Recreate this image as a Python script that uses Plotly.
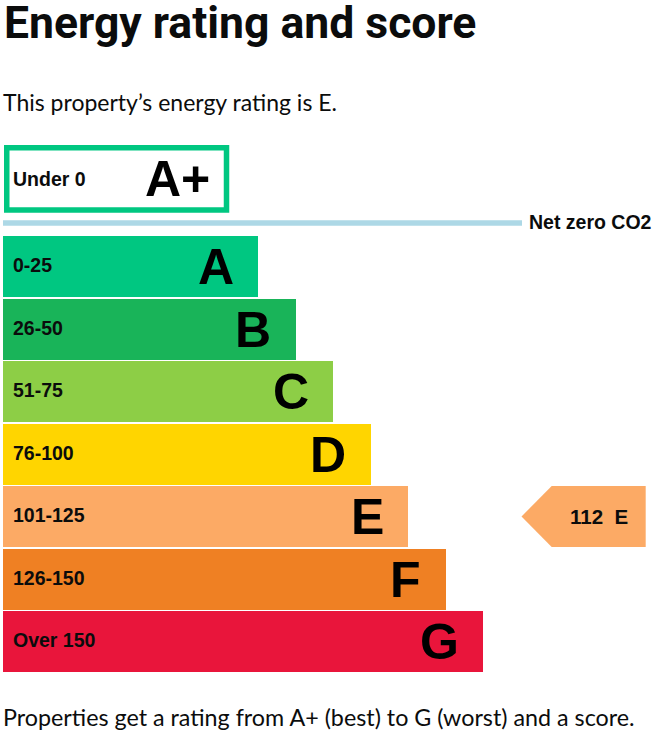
import plotly.graph_objects as go

# ---- data ----
bands = ["A", "B", "C", "D", "E", "F", "G"]
band_ranges = ["0-25", "26-50", "51-75", "76-100", "101-125", "126-150", "Over 150"]
band_upper = [25, 50, 75, 100, 125, 150, 10**9]
band_colors = ["#00c781", "#19b459", "#8dce46", "#ffd500", "#fcaa65", "#ef8023", "#e9153b"]
top_band = "A+"
top_range = "Under 0"
score = 112
rating = "E"
title_text = "Energy rating and score"
subtitle_text = "This property\u2019s energy rating is E."
footer_text = "Properties get a rating from A+ (best) to G (worst) and a score."
netzero_text = "Net zero CO2"

# ---- layout constants (pixels) ----
W, H = 661, 741
X0 = 3
ROW0 = 266.5
PITCH = 62.5
BAR_H = 61
LEN0 = 255
STEP = 37.5

BOLD = "Liberation Sans, Arial, sans-serif"
TITLE_FONT = "Roboto, sans-serif"
BODY_FONT = "Lato, sans-serif"
INK = "#0b0c0c"

centers = [ROW0 + PITCH * i for i in range(len(bands))]
lengths = [LEN0 + STEP * i for i in range(len(bands))]

fig = go.Figure()
fig.add_trace(go.Bar(
    orientation="h", y=centers, x=lengths, base=X0, width=BAR_H,
    marker=dict(color=band_colors, line=dict(width=0)),
    hoverinfo="skip", showlegend=False,
))

lab_font = dict(family=BOLD, size=19.5, color=INK, weight="bold")
big_font = dict(family=BOLD, size=50, color="#000000", weight="bold")

ann = []
for b, r, c, L in zip(bands, band_ranges, centers, lengths):
    ann.append(dict(x=10.5, y=c - 1.5, text=r, xanchor="left", yanchor="middle",
                    showarrow=False, font=lab_font))
    ann.append(dict(x=X0 + L - 22.5, y=c + 0.5, text=b, xanchor="right", yanchor="middle",
                    showarrow=False, font=big_font))

# A+ box
fig.add_shape(type="rect", x0=6.75, x1=226.5, y0=147.75, y1=210,
              line=dict(color=band_colors[0], width=5.5), fillcolor="white")
ann.append(dict(x=10.5, y=179, text=top_range, xanchor="left", yanchor="middle",
                showarrow=False, font=lab_font))
ann.append(dict(x=212, y=179, text=top_band, xanchor="right", yanchor="middle",
                showarrow=False, font=big_font))

# net zero line
fig.add_shape(type="line", x0=3, x1=522, y0=223, y1=223,
              line=dict(color="#add8e6", width=5.5))
ann.append(dict(x=527, y=222, text=netzero_text, xanchor="left", yanchor="middle",
                showarrow=False, font=lab_font))

# score arrow, placed on the band that contains the score
idx = next(i for i, u in enumerate(band_upper) if score <= u)
cy = centers[idx]
top, bot = cy - BAR_H / 2, cy + BAR_H / 2
tip_x, body_x, right_x = 521.5, 551.7, 645.7
fig.add_trace(go.Scatter(
    x=[tip_x, body_x, right_x, right_x, body_x, tip_x],
    y=[cy, top, top, bot, bot, cy],
    fill="toself", fillcolor=band_colors[idx], mode="lines",
    line=dict(width=0, color=band_colors[idx]), hoverinfo="skip", showlegend=False,
))
ann.append(dict(x=(body_x + right_x) / 2, y=cy, text=f"{score}\u00a0\u00a0{bands[idx]}",
                xanchor="center", yanchor="middle", showarrow=False,
                font=dict(family=BOLD, size=20.5, color=INK, weight="bold")))

# texts
ann.append(dict(x=2, y=23, text=title_text, xanchor="left", yanchor="middle",
                showarrow=False, font=dict(family=TITLE_FONT, size=44.5, color=INK, weight="bold")))
ann.append(dict(x=1, y=102, text=subtitle_text, xanchor="left", yanchor="middle",
                showarrow=False, font=dict(family=BODY_FONT, size=23, color=INK)))
ann.append(dict(x=1, y=717, text=footer_text, xanchor="left", yanchor="middle",
                showarrow=False, font=dict(family=BODY_FONT, size=23.3, color=INK)))

fig.update_layout(
    width=W, height=H, margin=dict(l=0, r=0, t=0, b=0),
    paper_bgcolor="white", plot_bgcolor="white",
    xaxis=dict(range=[0, W], visible=False, fixedrange=True),
    yaxis=dict(range=[H, 0], visible=False, fixedrange=True),
    annotations=ann, bargap=0,
)
fig.write_html("out.html", config={"displayModeBar": False},
               post_script="document.body.style.margin='0';document.body.style.overflow='hidden';")
